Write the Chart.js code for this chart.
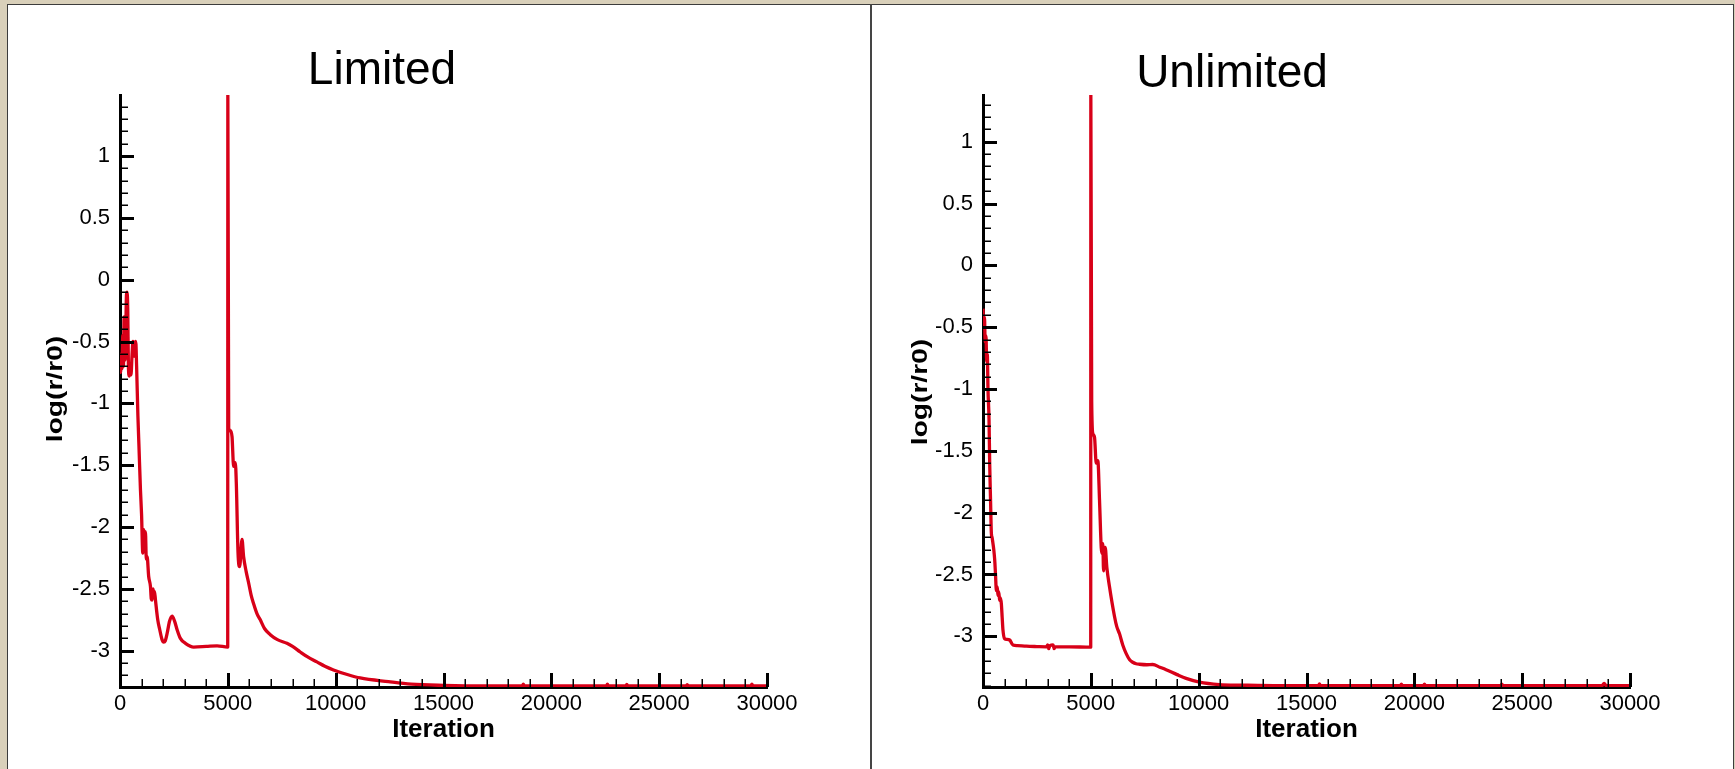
<!DOCTYPE html>
<html><head><meta charset="utf-8">
<script src="https://cdn.jsdelivr.net/npm/chart.js@4.4.1/dist/chart.umd.min.js"></script>
<style>
html,body{margin:0;padding:0;background:#d9d0ba;width:1735px;height:769px;overflow:hidden;position:relative}
#panel{position:absolute;left:7px;top:4px;width:1725px;height:800px;background:#fff;border-left:1px solid #3c3c3c;border-top:1px solid #3c3c3c;border-right:1px solid #3c3c3c}
#divider{position:absolute;left:870px;top:4px;width:2px;height:765px;background:#454545;z-index:5}
canvas{position:absolute;top:0}
</style></head><body>
<div id="panel"></div>
<canvas id="c1" width="870" height="769" style="left:0px"></canvas>
<canvas id="c2" width="863" height="769" style="left:872px"></canvas>
<div id="divider"></div>
<script>
// ---- data ----
const limitedIter = [0,30,55,90,130,160,190,230,270,300,330,360,390,430,470,510,560,600,640,690,730,770,830,880,949,1000,1056,1102,1140,1180,1220,1259,1330,1412,1450,1491,1530,1565,1600,1644,1750,1843,1950,2028,2100,2185,2300,2417,2530,2648,2800,3033,3417,4000,4500,4995,5000,5040,5120,5195,5269,5348,5394,5473,5547,5658,5732,5850,5963,6080,6195,6350,6505,6700,6968,7300,7741,8000,8357,8700,9130,9500,9899,10500,11135,12450,13500,15000,17000,18650,18700,18750,20000,22550,22600,22650,23450,23500,23550,26250,26300,26350,29250,29300,29350,30000];
const limitedResid = [-0.62,-0.75,-0.60,-0.72,-0.45,-0.70,-0.30,-0.65,-0.40,-0.12,-0.10,-0.25,-0.70,-0.78,-0.72,-0.77,-0.60,-0.50,-0.52,-0.62,-0.50,-0.70,-1.10,-1.35,-1.70,-1.90,-2.21,-2.02,-2.20,-2.04,-2.26,-2.24,-2.40,-2.48,-2.58,-2.59,-2.50,-2.54,-2.52,-2.59,-2.75,-2.83,-2.91,-2.93,-2.92,-2.86,-2.76,-2.72,-2.76,-2.83,-2.90,-2.94,-2.97,-2.965,-2.96,-2.97,1.493,-1.20,-1.22,-1.27,-1.51,-1.48,-1.65,-2.21,-2.32,-2.10,-2.24,-2.36,-2.45,-2.55,-2.62,-2.70,-2.75,-2.82,-2.87,-2.91,-2.94,-2.965,-3.01,-3.05,-3.09,-3.125,-3.155,-3.19,-3.22,-3.25,-3.27,-3.28,-3.285,-3.285,-3.27,-3.285,-3.285,-3.285,-3.27,-3.285,-3.285,-3.272,-3.285,-3.285,-3.273,-3.285,-3.285,-3.27,-3.285,-3.285];
const unlimitedIter = [0,40,70,100,140,170,200,231,280,310,350,389,420,463,500,542,580,620,660,695,730,773,810,852,890,926,1005,1100,1236,1389,1600,2009,2500,2935,3000,3050,3100,3250,3300,3350,4000,4995,5000,5040,5093,5171,5250,5325,5403,5481,5520,5556,5590,5667,5741,5866,6098,6200,6330,6480,6640,6800,6945,7100,7255,7600,7871,8200,8490,9000,9417,10033,10960,12000,13780,15000,15550,15600,15650,19350,19400,19450,20420,20470,20520,24000,24060,24120,28700,28800,28900,30000];
const unlimitedResid = [-0.35,-0.50,-0.42,-0.62,-0.57,-0.78,-0.72,-1.00,-1.25,-1.60,-1.90,-2.17,-2.20,-2.25,-2.30,-2.38,-2.50,-2.63,-2.60,-2.67,-2.64,-2.71,-2.69,-2.74,-2.85,-2.95,-3.02,-3.025,-3.03,-3.07,-3.075,-3.08,-3.083,-3.085,-3.07,-3.10,-3.075,-3.07,-3.10,-3.085,-3.085,-3.088,1.378,-1.10,-1.36,-1.39,-1.60,-1.58,-1.90,-2.28,-2.33,-2.25,-2.47,-2.28,-2.44,-2.60,-2.84,-2.92,-2.98,-3.07,-3.14,-3.19,-3.21,-3.222,-3.226,-3.23,-3.228,-3.25,-3.27,-3.31,-3.34,-3.37,-3.39,-3.395,-3.40,-3.40,-3.40,-3.385,-3.40,-3.40,-3.387,-3.40,-3.40,-3.387,-3.40,-3.40,-3.387,-3.40,-3.40,-3.38,-3.40,-3.40];
const xTickLabels = [0,5000,10000,15000,20000,25000,30000];
const yTickLabels = [-3,-2.5,-2,-1.5,-1,-0.5,0,0.5,1];
const titles = ['Limited','Unlimited'];
const xAxisTitle = 'Iteration';
const yAxisTitle = 'log(r/r0)';

const FONT = '"Liberation Sans", Arial, Helvetica, sans-serif';
Chart.defaults.font.family = FONT;

function pts(xs, ys){ return xs.map((x,i)=>({x:x, y:ys[i]})); }

const decor = {
  id:'decor',
  afterDatasetsDraw(chart, args, o){
    const ctx = chart.ctx, xs = chart.scales.x, ys = chart.scales.y, a = chart.chartArea;
    ctx.save();
    ctx.strokeStyle = '#000';
    ctx.lineCap = 'butt';
    ctx.lineWidth = 1.5;
    ctx.beginPath();
    for (let i = 1; i * 1000 < xs.max; i++) {
      if (i % 5 === 0) continue;
      const px = Math.round(xs.getPixelForValue(i * 1000)) + 0.25;
      ctx.moveTo(px, a.bottom); ctx.lineTo(px, a.bottom - 8);
    }
    const k0 = Math.ceil(ys.min * 10 - 1e-6), k1 = Math.floor(ys.max * 10 + 1e-6);
    for (let k = k0; k <= k1; k++) {
      if (k % 5 === 0) continue;
      const py = Math.round(ys.getPixelForValue(k / 10)) + 0.25;
      ctx.moveTo(a.left, py); ctx.lineTo(a.left + 8, py);
    }
    ctx.stroke();
    ctx.lineWidth = 3;
    ctx.beginPath();
    xTickLabels.forEach(v => {
      const px = Math.round(xs.getPixelForValue(v)) + 0.5;
      ctx.moveTo(px, a.bottom); ctx.lineTo(px, a.bottom - 14);
    });
    yTickLabels.forEach(v => {
      const py = Math.round(ys.getPixelForValue(v)) + 0.5;
      ctx.moveTo(a.left, py); ctx.lineTo(a.left + 14, py);
    });
    ctx.stroke();
    ctx.restore();
  },
  afterDraw(chart, args, o){
    const ctx = chart.ctx, a = chart.chartArea;
    ctx.save();
    ctx.fillStyle = '#000';
    ctx.font = '46px ' + FONT;
    ctx.textAlign = 'center'; ctx.textBaseline = 'alphabetic';
    ctx.fillText(o.title, o.titleX, o.titleBase);
    ctx.font = 'bold 26px ' + FONT;
    ctx.fillText(xAxisTitle, (a.left + a.right) / 2, a.bottom + 50);
    ctx.translate(o.yTitleX, o.yTitleY);
    ctx.rotate(-Math.PI / 2);
    ctx.scale(1.28, 1);
    ctx.font = 'bold 22px ' + FONT;
    ctx.fillText(yAxisTitle, 0, 0);
    ctx.restore();
  }
};

function makeChart(id, data, yMin, yMax, pad, yWidth, deco){
  return new Chart(document.getElementById(id), {
    type: 'line',
    data: { datasets: [{ data: data, borderColor: '#d80018', borderWidth: 3.3, pointRadius: 0, cubicInterpolationMode: 'monotone', fill: false, borderJoinStyle: 'round' }] },
    options: {
      responsive: false, animation: false, devicePixelRatio: 1, parsing: false,
      layout: { padding: pad },
      plugins: { legend: { display: false }, tooltip: { enabled: false }, title: { display: false }, decor: deco },
      scales: {
        x: {
          type: 'linear', min: 0, max: 30000,
          afterBuildTicks: s => { s.ticks = xTickLabels.map(v => ({ value: v })); },
          afterFit: s => { s.height = 82; },
          grid: { display: false, drawTicks: false },
          border: { display: true, color: '#000', width: 3 },
          ticks: { color: '#000', font: { size: 22 }, padding: 4, maxRotation: 0, minRotation: 0, autoSkip: false, callback: v => String(v) }
        },
        y: {
          type: 'linear', min: yMin, max: yMax,
          afterBuildTicks: s => { s.ticks = yTickLabels.map(v => ({ value: v })); },
          afterFit: s => { s.width = yWidth; },
          grid: { display: false, drawTicks: false },
          border: { display: true, color: '#000', width: 3 },
          ticks: { color: '#000', font: { size: 22 }, padding: 10, autoSkip: false, callback: v => String(v) }
        }
      }
    },
    plugins: [decor]
  });
}

makeChart('c1', pts(limitedIter, limitedResid), -3.293, 1.493,
  { left: 8, right: 103, top: 95, bottom: 0 }, 112,
  { title: titles[0], titleX: 382, titleBase: 83.5, yTitleX: 61.5, yTitleY: 389 });
makeChart('c2', pts(unlimitedIter, unlimitedResid), -3.41, 1.378,
  { left: 8, right: 105, top: 95, bottom: 0 }, 103,
  { title: titles[1], titleX: 360, titleBase: 87, yTitleX: 54.5, yTitleY: 392 });
</script>
</body></html>
